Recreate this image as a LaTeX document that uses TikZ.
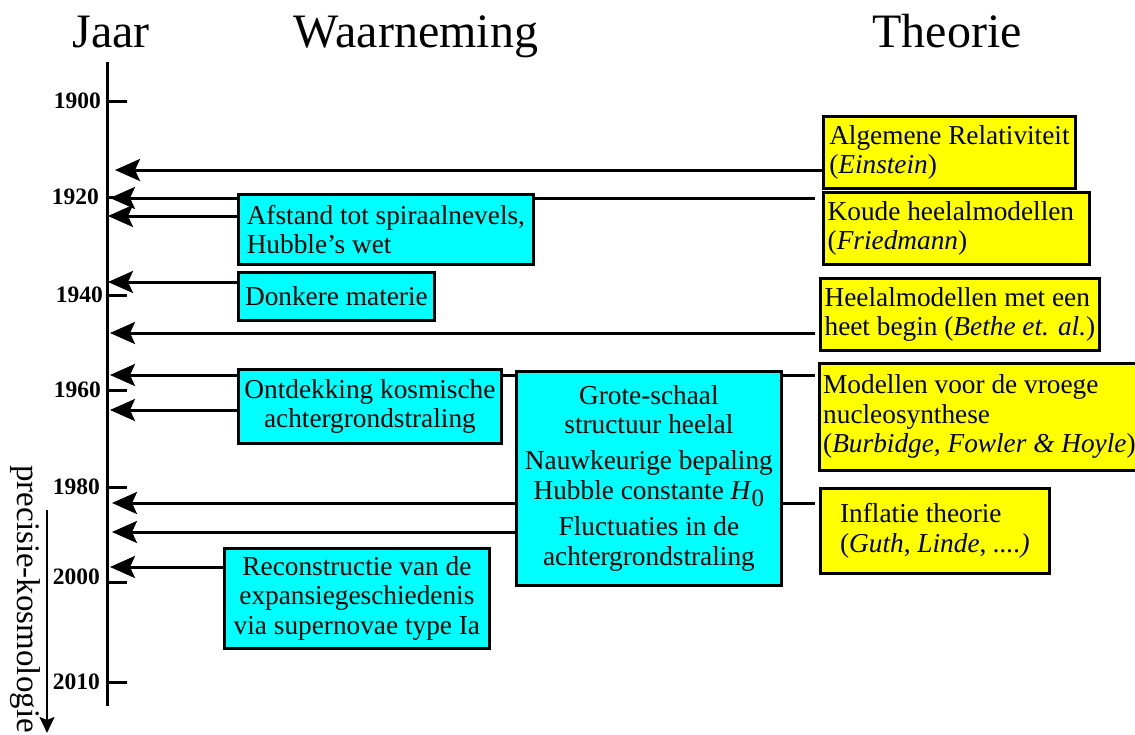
\documentclass[tikz,border=0pt]{standalone}
\usepackage{fontspec}
\setmainfont{Liberation Serif}
\usetikzlibrary{arrows.meta,calc,backgrounds}
\definecolor{obscyan}{RGB}{0,255,255}
\definecolor{theoyellow}{RGB}{255,255,0}
\newcommand{\panelfont}{\fontsize{27.3}{29.5}\selectfont}

\begin{document}
\begin{tikzpicture}[x=1pt, y=-1pt,
  panel/.style={draw=black, line width=2.8pt, inner xsep=2pt, inner ysep=0pt,
                anchor=north west, font=\panelfont},
  obs/.style={panel, fill=obscyan},
  theo/.style={panel, fill=theoyellow, align=left},
  link/.style={line width=3pt, -{Stealth[length=25pt,width=22pt,inset=5pt]}},
  header/.style={anchor=base, font=\fontsize{48}{48}\selectfont},
  yearlabel/.style={anchor=east, inner sep=0pt, font=\fontsize{23.5}{24}\selectfont\bfseries},
  yeartick/.style={line width=3pt},
  timeaxis/.style={line width=3pt},
  sidelabel/.style={rotate=-90, anchor=base west, inner sep=0pt, font=\fontsize{33}{33}\selectfont},
  sidearrow/.style={line width=2pt, -{Stealth[length=16pt,width=15pt,inset=3pt]}}
]
\useasboundingbox (0,0) rectangle (1135,734);

% column headings
\node[header] (hjaar) at (111,47) {Jaar};
\node[header] (hwaar) at (416,47) {Waarneming};
\node[header] (htheo) at (947,47) {Theorie};

% time axis with year ticks
\coordinate (axtop) at (107,62);
\coordinate (axbot) at (107,706);
\draw[timeaxis] (axtop) -- (axbot);
\foreach \yr/\ty/\ly/\lx in {1900/101/101/101, 1920/197/197/99, 1940/295/295/103,
                             1960/390/390/101, 1980/487/487/100, 2000/582/577/100,
                             2010/682/682/100}{
  \draw[yeartick] (107,\ty) -- (127,\ty);
  \node[yearlabel] (y\yr) at (\lx,\ly) {\yr};
}

% era of precision cosmology
\node[sidelabel] (precisie) at (17,465) {precisie-kosmologie};
\coordinate (pstart) at (47,510);
\coordinate (pend) at (47,733);
\draw[sidearrow] (pstart) -- (pend);

% observations
\node[obs, align=left, minimum width=295pt, minimum height=70pt] (afstand) at (237,193)
  {Afstand tot spiraalnevels,\\Hubble's wet};
\node[obs, align=left, minimum width=196pt, minimum height=48pt] (donker) at (237,271)
  {Donkere materie};
\node[obs, align=center, minimum width=263pt, minimum height=74pt] (ontdek) at (237,368)
  {Ontdekking kosmische\\achtergrondstraling};
\node[obs, align=center, minimum width=265pt, minimum height=214pt] (grote) at (515,370)
  {Grote-schaal\\structuur heelal\\[6.5pt]Nauwkeurige bepaling\\Hubble constante
   \textit{H}\raisebox{-7pt}{\fontsize{25}{25}\selectfont 0}\\[7pt]Fluctuaties in de\\achtergrondstraling};
\node[obs, align=center, minimum width=265pt, minimum height=100pt] (recon) at (223,547)
  {Reconstructie van de\\expansiegeschiedenis\\via supernovae type Ia};

% theories
\node[theo, minimum width=252pt, minimum height=72pt] (einst) at (822,115)
  {Algemene Relativiteit\\(\textit{Einstein})};
\node[theo, minimum width=266pt, minimum height=72pt] (koude) at (822,191)
  {Koude heelalmodellen\hspace*{11pt}\\(\textit{Friedmann})};
\node[theo, minimum width=279pt, minimum height=72pt] (heet) at (819,277)
  {Heelalmodellen met een\\heet begin (\textit{Bethe et. al.})};
\node[theo, minimum width=320pt, minimum height=107pt] (vroeg) at (818,362)
  {Modellen voor de vroege\\nucleosynthese\\(\textit{Burbidge, Fowler \& Hoyle})};
\node[theo, minimum width=229pt, minimum height=85pt] (infl) at (819,487)
  {Inflatie theorie\\(\textit{Guth}, \textit{Linde}, \textit{....)}};

% arrows onto the time axis, behind the boxes
\begin{scope}[on background layer]
  \coordinate (a1) at (115,170);
  \coordinate (a2) at (110,198);
  \coordinate (a3) at (108,216);
  \coordinate (a4) at (108,282);
  \coordinate (a5) at (110,333);
  \coordinate (a6) at (110,375);
  \coordinate (a7) at (110,410);
  \coordinate (a8) at (112,503);
  \coordinate (a9) at (112,532);
  \coordinate (a10) at (110,567);
  \draw[link] (a1 -| einst.west) -- (a1);
  \draw[link] ($(a2 -| koude.west)+(-7,0)$) -- (a2);
  \draw[link] (a3 -| afstand.west) -- (a3);
  \draw[link] (a4 -| donker.west) -- (a4);
  \draw[link] ($(a5 -| heet.west)+(-4,0)$) -- (a5);
  \draw[link] ($(a6 -| vroeg.west)+(-3,0)$) -- (a6);
  \draw[link] (a7 -| ontdek.west) -- (a7);
  \draw[link] ($(a8 -| infl.west)+(-4,0)$) -- (a8);
  \draw[link] (a9 -| grote.west) -- (a9);
  \draw[link] (a10 -| recon.west) -- (a10);
\end{scope}
\end{tikzpicture}
\end{document}
